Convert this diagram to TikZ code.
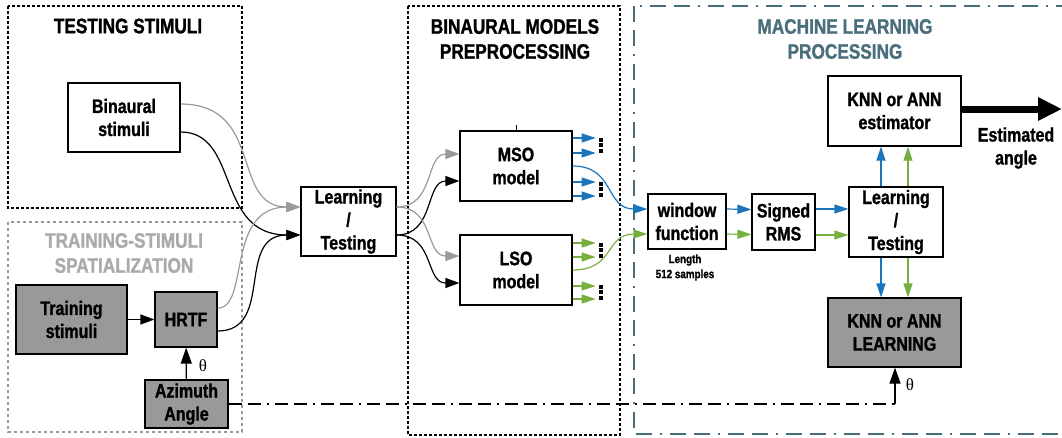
\documentclass[tikz,border=0pt]{standalone}
\usepackage{fontspec}
\setmainfont{Liberation Sans}[FakeStretch=0.82, BoldFeatures={FakeBold=1.2}]
\newfontfamily\thetafont{Liberation Serif}
\usetikzlibrary{arrows.meta,calc}
\definecolor{myblue}{HTML}{1B75BC}
\definecolor{mygreen}{HTML}{77B041}
\definecolor{lgray}{HTML}{9A9A9A}
\definecolor{fillgray}{HTML}{999999}
\definecolor{mlteal}{HTML}{4A6F7C}
\definecolor{titlegray}{HTML}{AAAAAA}
\begin{document}
\begin{tikzpicture}[x=1pt,y=-1pt,
  every node/.style={font=\bfseries\fontsize{19.5}{23}\selectfont},
  box/.style={draw, line width=1.2pt, fill=white, align=center, inner sep=0pt},
  gbox/.style={box, fill=fillgray},
  ttl/.style={font=\bfseries\fontsize{21}{25}\selectfont, align=center},
  tip/.style={-{Triangle[length=14pt,width=10pt]}},
  stip/.style={-{Triangle[length=14pt,width=9pt]}},
  gline/.style={lgray, line width=1.2pt, tip},
  bline/.style={black, line width=1.2pt, tip},
  blu/.style={myblue, line width=1.2pt, stip},
  grn/.style={mygreen, line width=1.2pt, stip},
  dotbox/.style={line width=1.5pt, dash pattern=on 3pt off 2pt},
  gdotbox/.style={lgray, line width=1.2pt, dash pattern=on 3pt off 3pt},
  mlbox/.style={mlteal, line width=1.5pt, dash pattern=on 16pt off 8pt on 16pt off 8pt on 2pt off 8pt},
  dashdot/.style={line width=1.2pt, dash pattern=on 13pt off 6pt on 13pt off 6pt on 2pt off 6pt},
  thlbl/.style={font=\thetafont\fontsize{17}{18}\selectfont}
]
\useasboundingbox (0,0) rectangle (1062,437);

% group boxes
\draw[dotbox] (8,6) rectangle (242,208);
\draw[gdotbox] (8,222) rectangle (242,432);
\draw[dotbox] (408,6) rectangle (620,435);
\draw[mlbox] (634,6) rectangle (1075,434);

% titles
\node[ttl] (t1) at (128,26) {TESTING STIMULI};
\node[ttl, text=titlegray] (t2) at (124,253) {TRAINING-STIMULI\\SPATIALIZATION};
\node[ttl] (t3) at (515,39) {BINAURAL MODELS\\PREPROCESSING};
\node[ttl, text=mlteal] (t4) at (845,39) {MACHINE LEARNING\\PROCESSING};

% nodes
\node[box, minimum width=112pt, minimum height=69pt] (bs) at (124,117.5) {Binaural\\stimuli};
\node[gbox, minimum width=111pt, minimum height=69pt] (ts) at (71.5,319.5) {Training\\stimuli};
\node[gbox, minimum width=62pt, minimum height=55pt] (hrtf) at (186,319.5) {HRTF};
\node[gbox, minimum width=83pt, minimum height=48pt] (az) at (186.5,404) {Azimuth\\Angle};
\node[box, minimum width=95pt, minimum height=69pt] (lt1) at (348.5,221.5) {Learning\\/\\Testing};
\node[box, minimum width=112pt, minimum height=70pt] (mso) at (516,166) {MSO\\model};
\node[box, minimum width=112pt, minimum height=70pt] (lso) at (516,270) {LSO\\model};
\node[box, minimum width=78pt, minimum height=55pt] (wf) at (687,221.5) {window\\function};
\node[font=\bfseries\fontsize{12}{15}\selectfont, align=center] (len) at (685,267.5) {Length\\512 samples};
\node[box, minimum width=63pt, minimum height=56pt] (sr) at (783.5,222) {Signed\\RMS};
\node[box, minimum width=94pt, minimum height=70pt] (lt2) at (896,222) {Learning\\/\\Testing};
\node[box, minimum width=133pt, minimum height=70pt] (est) at (894.5,111) {KNN or ANN\\estimator};
\node[gbox, minimum width=133pt, minimum height=69pt] (lrn) at (894.5,332.5) {KNN or ANN\\LEARNING};
\node[align=center] (ea) at (1016,148) {Estimated\\angle};
\coordinate (eaend) at (1062,109);

% tick on MSO
\draw[line width=0.8pt] (mso.north) -- ++(0,-5);

% stimuli to learning/testing
\draw[gline] ($(bs.east)+(0,-13.5)$) .. controls (265,104) and (230,207) .. ($(lt1.west)+(0,-14.5)$);
\draw[bline] ($(bs.east)+(0,14.5)$) .. controls (240,132) and (215,235) .. ($(lt1.west)+(0,13.5)$);
\draw[gline] ($(hrtf.east)+(0,-11.5)$) .. controls (250,308) and (225,207) .. ($(lt1.west)+(0,-14.5)$);
\draw[bline] ($(hrtf.east)+(0,11.5)$) .. controls (275,331) and (235,235) .. ($(lt1.west)+(0,13.5)$);

\draw[bline] (ts) -- (hrtf);
\draw[line width=1.2pt, -{Triangle[length=16pt,width=11pt]}] (az) -- (hrtf);
\node[thlbl] (th1) at (203,366) {θ};

% learning/testing to models
\draw[gline] ($(lt1.east)+(0,-14.5)$) .. controls (435,207) and (425,154) .. ($(mso.west)+(0,-12)$);
\draw[bline] ($(lt1.east)+(0,13.5)$) .. controls (435,235) and (425,181) .. ($(mso.west)+(0,15)$);
\draw[gline] ($(lt1.east)+(0,-14.5)$) .. controls (435,207) and (425,256) .. ($(lso.west)+(0,-14)$);
\draw[bline] ($(lt1.east)+(0,13.5)$) .. controls (435,235) and (425,283) .. ($(lso.west)+(0,13)$);

% model outputs
\foreach \o in {-28,-13,16,30} \draw[blu] ($(mso.east)+(0,\o)$) -- ++(23,0);
\foreach \o in {-27,-13,16,29} \draw[grn] ($(lso.east)+(0,\o)$) -- ++(23,0);
\foreach \m in {145,189,250,292} \foreach \d in {-5.5,0,5.5}
  \fill (599,\m+\d-2) rectangle (603,\m+\d+2);

\draw[blu] (mso.east) .. controls (615,166) and (605,209) .. ($(wf.west)+(0,-12.5)$);
\draw[grn] (lso.east) .. controls (615,270) and (605,234) .. ($(wf.west)+(0,12.5)$);

% ML chain
\draw[blu] ($(wf.east)+(0,-12.5)$) -- ($(sr.west)+(0,-12.5)$);
\draw[grn] ($(wf.east)+(0,12.5)$) -- ($(sr.west)+(0,12.5)$);
\draw[blu] ($(sr.east)+(0,-13)$) -- ($(lt2.west)+(0,-13)$);
\draw[grn] ($(sr.east)+(0,13)$) -- ($(lt2.west)+(0,13)$);
\draw[blu] ($(lt2.north)+(-15,0)$) -- ($(est.south)+(-13.5,0)$);
\draw[grn] ($(lt2.north)+(12,0)$) -- ($(est.south)+(13.5,0)$);
\draw[blu] ($(lt2.south)+(-15,0)$) -- ($(lrn.north)+(-13.5,0)$);
\draw[grn] ($(lt2.south)+(12,0)$) -- ($(lrn.north)+(13.5,0)$);

\draw[line width=7pt, -{Triangle[length=24pt,width=22pt]}] (est.east |- eaend) -- (eaend);

% angle line
\coordinate (corner) at (895,404);
\draw[dashdot] (az.east) -- (corner);
\draw[line width=1.2pt, -{Triangle[length=16pt,width=11pt]}] (corner) -- (lrn.south -| corner);
\node[thlbl] (th2) at (910,385) {θ};
\end{tikzpicture}
\end{document}
